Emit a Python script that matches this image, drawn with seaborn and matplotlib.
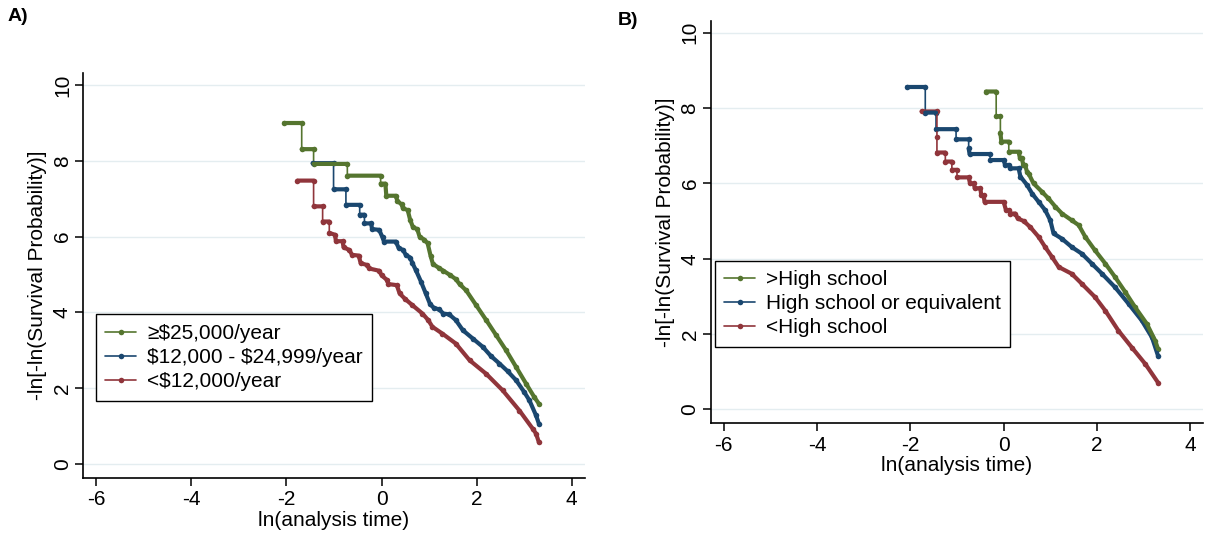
import numpy as np
import pandas as pd
import seaborn as sns
import matplotlib.pyplot as plt

sns.set_theme(style="ticks", rc={"axes.edgecolor": "black", "text.color": "black",
                                 "axes.labelcolor": "black", "xtick.color": "black",
                                 "ytick.color": "black"})
plt.rcParams["font.family"] = ["Liberation Sans", "DejaVu Sans"]
plt.rcParams["text.parse_math"] = False
plt.rcParams["axes.unicode_minus"] = False

#---------------------------------------------
#   DATA
#---------------------------------------------

# A) income groups
inc_names = ["≥$25,000/year", "$12,000 - $24,999/year", "<$12,000/year"]

inc_hi_x = [-2.05, -1.68, -1.68, -1.43, -1.43, -0.72, -0.72, -0.02, -0.02, 0.08, 0.10, 0.30, 0.33,
            0.42, 0.45, 0.55, 0.60, 0.66, 0.75, 0.80, 0.90, 0.97, 1.03, 1.08, 1.20, 1.30, 1.45,
            1.56, 1.64, 1.78, 1.99, 2.20, 2.41, 2.62, 2.83, 3.04, 3.21, 3.31]
inc_hi_y = [9.00, 9.00, 8.31, 8.31, 7.92, 7.92, 7.61, 7.61, 7.40, 7.40, 7.08, 7.08, 6.95,
            6.85, 6.75, 6.70, 6.45, 6.25, 6.20, 6.00, 5.92, 5.82, 5.50, 5.28, 5.18, 5.10, 4.98,
            4.88, 4.75, 4.58, 4.19, 3.80, 3.40, 3.00, 2.56, 2.12, 1.77, 1.59]

inc_mid_x = [-1.45, -1.01, -1.01, -0.75, -0.75, -0.46, -0.46, -0.36, -0.36, -0.22, -0.20, -0.05,
             0.02, 0.05, 0.30, 0.36, 0.45, 0.51, 0.60, 0.65, 0.72, 0.83, 0.93, 1.02, 1.10, 1.21,
             1.30, 1.42, 1.56, 1.71, 1.92, 2.13, 2.30, 2.48, 2.65, 2.83, 3.00, 3.11, 3.25, 3.31]
inc_mid_y = [7.94, 7.94, 7.25, 7.25, 6.84, 6.84, 6.58, 6.58, 6.35, 6.35, 6.20, 6.18,
             5.98, 5.87, 5.87, 5.70, 5.65, 5.52, 5.45, 5.30, 5.12, 4.81, 4.50, 4.22, 4.12, 4.08,
             3.97, 3.95, 3.80, 3.53, 3.31, 3.09, 2.85, 2.65, 2.45, 2.21, 1.90, 1.68, 1.28, 1.06]

inc_lo_x = [-1.77, -1.43, -1.43, -1.24, -1.24, -1.10, -1.10, -0.98, -0.96, -0.82, -0.80, -0.68,
            -0.62, -0.48, -0.44, -0.30, -0.26, -0.05, 0.00, 0.12, 0.14, 0.32, 0.38, 0.50, 0.65,
            0.86, 0.98, 1.07, 1.28, 1.56, 1.85, 2.20, 2.55, 2.90, 3.18, 3.25, 3.31]
inc_lo_y = [7.48, 7.48, 6.80, 6.80, 6.40, 6.40, 6.10, 6.05, 5.88, 5.88, 5.72, 5.65,
            5.52, 5.50, 5.30, 5.25, 5.16, 5.10, 4.98, 4.85, 4.75, 4.72, 4.50, 4.35, 4.19,
            3.97, 3.80, 3.62, 3.44, 3.18, 2.74, 2.38, 1.94, 1.41, 0.93, 0.80, 0.57]

# B) education groups
edu_names = [">High school", "High school or equivalent", "<High school"]

edu_hi_x = [-0.38, -0.16, -0.16, -0.07, -0.07, -0.05, 0.11, 0.11, 0.32, 0.35, 0.39, 0.42, 0.46,
            0.50, 0.54, 0.64, 0.82, 0.96, 1.11, 1.25, 1.46, 1.61, 1.75, 1.96, 2.18, 2.39, 2.61,
            2.82, 3.07, 3.25, 3.31]
edu_hi_y = [8.44, 8.44, 7.78, 7.78, 7.35, 7.11, 7.11, 6.84, 6.84, 6.67, 6.67, 6.49, 6.49,
            6.31, 6.25, 6.00, 5.78, 5.60, 5.38, 5.20, 5.02, 4.89, 4.58, 4.22, 3.87, 3.51, 3.11,
            2.71, 2.27, 1.82, 1.60]

edu_mid_x = [-2.07, -1.68, -1.68, -1.45, -1.45, -1.02, -1.02, -0.75, -0.75, -0.73, -0.29, -0.29,
             0.00, 0.03, 0.11, 0.14, 0.32, 0.36, 0.50, 0.61, 0.75, 0.89, 1.00, 1.07, 1.25, 1.46,
             1.68, 1.89, 2.11, 2.39, 2.68, 2.96, 3.18, 3.31]
edu_mid_y = [8.56, 8.56, 7.88, 7.88, 7.44, 7.44, 7.17, 7.17, 6.93, 6.78, 6.78, 6.62,
             6.62, 6.49, 6.49, 6.40, 6.40, 6.18, 5.96, 5.73, 5.51, 5.29, 5.02, 4.67, 4.53, 4.31,
             4.13, 3.87, 3.60, 3.24, 2.80, 2.36, 1.91, 1.42]

edu_lo_x = [-1.76, -1.43, -1.43, -1.43, -1.25, -1.25, -1.11, -1.11, -1.00, -1.00, -0.75, -0.72,
            -0.64, -0.62, -0.50, -0.48, -0.43, -0.41, 0.00, 0.05, 0.11, 0.14, 0.25, 0.30, 0.43,
            0.57, 0.75, 0.89, 1.04, 1.18, 1.46, 1.68, 1.96, 2.18, 2.46, 2.75, 3.04, 3.31]
edu_lo_y = [7.91, 7.91, 7.24, 6.82, 6.82, 6.58, 6.58, 6.36, 6.36, 6.16, 6.16, 6.00,
            6.00, 5.87, 5.87, 5.69, 5.69, 5.51, 5.51, 5.29, 5.29, 5.20, 5.20, 5.07, 5.00,
            4.84, 4.58, 4.31, 4.04, 3.78, 3.60, 3.33, 2.98, 2.62, 2.09, 1.64, 1.20, 0.71]

xticks = [-6, -4, -2, 0, 2, 4]
yticks = [0, 2, 4, 6, 8, 10]

# Stata s2color: forest_green, navy, maroon
colors = ["#55752f", "#1a476f", "#90353b"]


def draw_panel(ax, names, xs_list, ys_list, legend_anchor):
    df = pd.concat([pd.DataFrame({"x": xs, "y": ys, "grp": n})
                    for n, xs, ys in zip(names, xs_list, ys_list)], ignore_index=True)
    pal = dict(zip(names, colors))
    sns.lineplot(data=df, x="x", y="y", hue="grp", hue_order=names, palette=pal,
                 sort=False, estimator=None, lw=1.2, marker="o", markersize=4,
                 markeredgewidth=0, ax=ax, zorder=3)
    # heavier stroke on the non-vertical runs (stata dots pile up there)
    for n in names[::-1]:
        sub = df[df["grp"] == n]
        xs, ys = sub["x"].to_numpy(), sub["y"].to_numpy()
        px, py = [xs[0]], [ys[0]]
        for i in range(1, len(xs)):
            if xs[i] == xs[i - 1]:
                px.append(np.nan)
                py.append(np.nan)
            px.append(xs[i])
            py.append(ys[i])
        ax.plot(px, py, color=pal[n], lw=3.0, solid_capstyle="round", zorder=3)

    ax.set_xlim(-6.28, 4.28)
    ax.set_ylim(-0.37, 10.32)
    ax.set_xticks(xticks)
    ax.set_yticks(yticks)
    ax.yaxis.grid(True, color="#e4edf0", lw=1.0, zorder=0)
    ax.set_axisbelow(True)
    sns.despine(ax=ax)
    for s in ["left", "bottom"]:
        ax.spines[s].set_linewidth(1.2)
    ax.tick_params(length=6, width=1.1, labelsize=15, pad=3)
    ax.tick_params(axis="y", labelrotation=90, pad=2)
    for lbl in ax.get_yticklabels():
        lbl.set_va("center")
    ax.set_xlabel("ln(analysis time)", fontsize=15, labelpad=1)
    ax.set_ylabel("-ln[-ln(Survival Probability)]", fontsize=15, labelpad=4)

    sns.move_legend(ax, "lower left", bbox_to_anchor=legend_anchor, title=None,
                    frameon=True, fancybox=False, edgecolor="black", framealpha=1,
                    fontsize=15, borderpad=0.45, labelspacing=0.25, handlelength=1.45,
                    handletextpad=0.55, borderaxespad=0)
    ax.get_legend().get_frame().set_linewidth(1.0)


fig = plt.figure(figsize=(12.14, 5.42), dpi=100)
axA = fig.add_axes([0.0684, 0.1181, 0.4135, 0.7472])
axB = fig.add_axes([0.5854, 0.2190, 0.4058, 0.7428])

draw_panel(axA, inc_names, [inc_hi_x, inc_mid_x, inc_lo_x], [inc_hi_y, inc_mid_y, inc_lo_y],
           (0.026, 0.191))
draw_panel(axB, edu_names, [edu_hi_x, edu_mid_x, edu_lo_x], [edu_hi_y, edu_mid_y, edu_lo_y],
           (0.009, 0.19))

fig.text(0.0066, 0.9696, "A)", fontsize=14, fontweight="bold", va="center")
fig.text(0.509, 0.963, "B)", fontsize=14, fontweight="bold", va="center")

plt.savefig("out.png", dpi=100)
